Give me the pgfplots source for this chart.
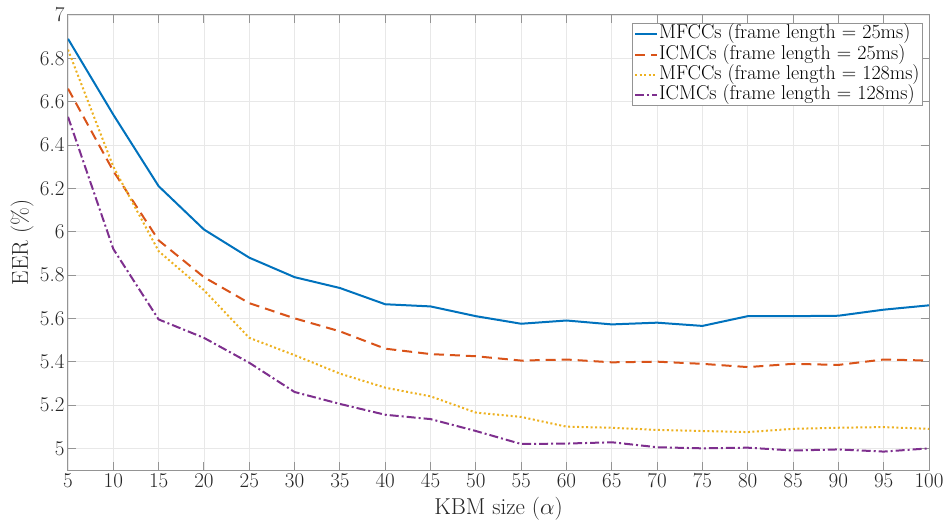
\RequirePackage{fix-cm}
\documentclass[border=0pt]{standalone}
\usepackage{pgfplots}
\pgfplotsset{compat=1.18}
\definecolor{mblue}{rgb}{0,0.447,0.741}
\definecolor{morange}{rgb}{0.85,0.325,0.098}
\definecolor{myellow}{rgb}{0.929,0.694,0.125}
\definecolor{mpurple}{rgb}{0.494,0.184,0.556}
\begin{document}
\begin{tikzpicture}
\begin{axis}[
  scale only axis,
  width=861pt, height=455pt,
  xmin=5, xmax=100, ymin=4.9, ymax=7,
  xtick={5,10,...,100},
  ytick={5,5.2,...,7.01},
  yticklabels={5,5.2,5.4,5.6,5.8,6,6.2,6.4,6.6,6.8,7},
  grid=major,
  major grid style={draw=black!9, line width=0.8pt},
  axis line style={draw=black!42, line width=1pt},
  tick style={draw=black!42, line width=1pt},
  major tick length=8pt,
  tick align=inside,
  ticklabel style={font=\fontsize{21}{24}\selectfont, text=black!85},
  label style={font=\fontsize{23}{26}\selectfont, text=black!85},
  xlabel={KBM size ($\alpha$)},
  ylabel={EER (\%)},
  xlabel style={at={(axis description cs:0.5,-0.0967)}, anchor=base},
  ylabel style={at={(axis description cs:-0.0465,0.5)}, anchor=base},
  legend style={at={(rel axis cs:0.993,0.9824)}, anchor=north east,
    draw=black!42, line width=0.8pt, fill=white,
    font=\fontsize{20}{20}\selectfont, row sep=0pt, column sep=0pt,
    inner xsep=2pt, inner ysep=1pt,
    nodes={inner xsep=1pt, inner ysep=0pt, text height=14.5pt, text depth=5.6pt}},
  legend cell align=left,
  legend image code/.code={\draw[#1, line width=2pt] (0pt,0pt) -- (22pt,0pt);},
]
\addplot[mblue, line width=2pt] coordinates {
(5,6.89) (10,6.54) (15,6.21) (20,6.01) (25,5.88) (30,5.79) (35,5.74) (40,5.665) (45,5.655) (50,5.61)
(55,5.575) (60,5.59) (65,5.572) (70,5.58) (75,5.565) (80,5.61) (85,5.61) (90,5.612) (95,5.64) (100,5.66)};
\addlegendentry{MFCCs (frame length = 25ms)}
\addplot[morange, line width=2pt, dash pattern=on 10pt off 6pt] coordinates {
(5,6.66) (10,6.28) (15,5.96) (20,5.79) (25,5.67) (30,5.60) (35,5.54) (40,5.46) (45,5.435) (50,5.425)
(55,5.405) (60,5.41) (65,5.397) (70,5.40) (75,5.39) (80,5.375) (85,5.39) (90,5.385) (95,5.41) (100,5.405)};
\addlegendentry{ICMCs (frame length = 25ms)}
\addplot[myellow, line width=2pt, dash pattern=on 2pt off 2.5pt] coordinates {
(5,6.84) (10,6.30) (15,5.91) (20,5.73) (25,5.51) (30,5.43) (35,5.345) (40,5.28) (45,5.24) (50,5.165)
(55,5.145) (60,5.10) (65,5.095) (70,5.085) (75,5.08) (80,5.075) (85,5.09) (90,5.095) (95,5.098) (100,5.09)};
\addlegendentry{MFCCs (frame length = 128ms)}
\addplot[mpurple, line width=2pt, dash pattern=on 9pt off 3pt on 2pt off 3pt] coordinates {
(5,6.53) (10,5.92) (15,5.595) (20,5.51) (25,5.395) (30,5.26) (35,5.205) (40,5.155) (45,5.135) (50,5.08)
(55,5.02) (60,5.022) (65,5.028) (70,5.005) (75,5.0) (80,5.003) (85,4.99) (90,4.995) (95,4.985) (100,5.0)};
\addlegendentry{ICMCs (frame length = 128ms)}
\coordinate (bl) at (rel axis cs:0,0);
\coordinate (tr) at (rel axis cs:1,1);
\end{axis}
\pgfresetboundingbox
\path ([shift={(-68pt,-50pt)}]bl) rectangle ([shift={(18pt,15pt)}]tr);
\end{tikzpicture}
\end{document}
